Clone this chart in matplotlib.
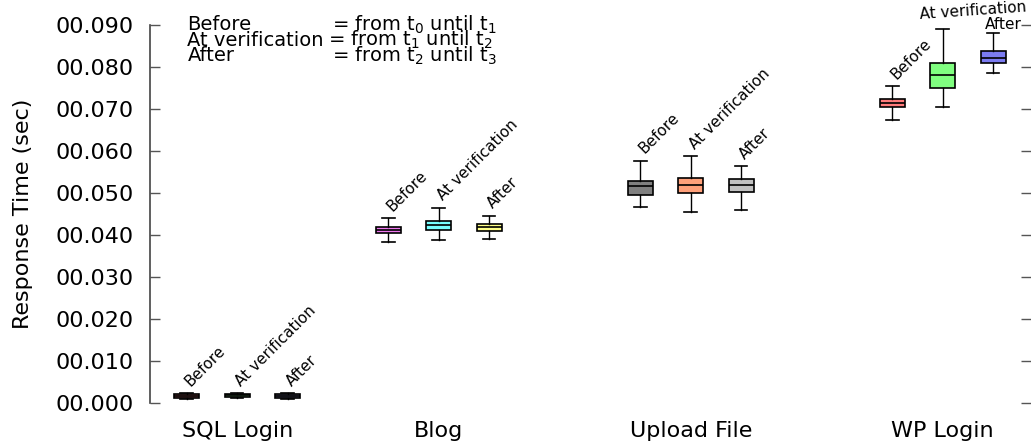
import matplotlib
matplotlib.use("Agg")
import matplotlib.pyplot as plt

# categories and box stats (whisker low, q1, median, q3, whisker high), in seconds
groups = ["SQL Login", "Blog", "Upload File", "WP Login"]
phases = ["Before", "At verification", "After"]

sql_stats = [
    [0.0010, 0.0013, 0.0017, 0.0021, 0.0024],
    [0.0011, 0.0014, 0.0018, 0.0021, 0.0024],
    [0.0010, 0.0013, 0.0017, 0.0021, 0.0024],
]
blog_stats = [
    [0.0383, 0.0404, 0.0412, 0.0418, 0.0440],
    [0.0387, 0.0413, 0.0423, 0.0434, 0.0465],
    [0.0390, 0.0409, 0.0418, 0.0426, 0.0446],
]
upload_stats = [
    [0.0467, 0.0496, 0.0517, 0.0529, 0.0577],
    [0.0455, 0.0499, 0.0520, 0.0536, 0.0588],
    [0.0459, 0.0502, 0.0519, 0.0534, 0.0564],
]
wp_stats = [
    [0.0675, 0.0705, 0.0715, 0.0724, 0.0755],
    [0.0705, 0.0751, 0.0782, 0.0809, 0.0891],
    [0.0786, 0.0809, 0.0821, 0.0839, 0.0882],
]

box_colors = [
    ["#b06464", "#5a965f", "#6c6c94"],
    ["#ee77ee", "#77ffff", "#ffff88"],
    ["#808080", "#ffa07a", "#c0c0c0"],
    ["#ff7b7b", "#80ff80", "#7b7bf0"],
]

positions = [[1, 2, 3], [5, 6, 7], [10, 11, 12], [15, 16, 17]]

plt.rcParams['font.family'] = 'DejaVu Sans'
fig = plt.figure(figsize=(10.31, 4.47), dpi=100)
ax = fig.add_axes([150 / 1031, 44 / 447, 881 / 1031, 378 / 447])

all_stats = [sql_stats, blog_stats, upload_stats, wp_stats]
for g, stats in enumerate(all_stats):
    bxp_stats = []
    for s in stats:
        bxp_stats.append({'whislo': s[0], 'q1': s[1], 'med': s[2], 'q3': s[3], 'whishi': s[4], 'fliers': []})
    bp = ax.bxp(bxp_stats, positions=positions[g], widths=0.5, patch_artist=True,
                showfliers=False, manage_ticks=False,
                boxprops=dict(edgecolor='black', linewidth=1.2),
                medianprops=dict(color='black', linewidth=1.2),
                whiskerprops=dict(color='black', linewidth=1.0),
                capprops=dict(color='black', linewidth=1.2))
    for patch, c in zip(bp['boxes'], box_colors[g]):
        patch.set_facecolor(c)

    # phase labels above each box
    for i, s in enumerate(stats):
        p = positions[g][i]
        if g == 3 and i == 1:
            ax.text(p - 0.44, s[4] + 0.0017, phases[i], rotation=4, fontsize=11,
                    ha='left', va='bottom', rotation_mode='anchor')
        elif g == 3 and i == 2:
            ax.text(p - 0.16, s[4] + 0.0002, phases[i], rotation=0, fontsize=11,
                    ha='left', va='bottom')
        else:
            ax.text(p + 0.12, s[4] + 0.0010, phases[i], rotation=45, fontsize=11,
                    ha='left', va='bottom', rotation_mode='anchor')

ax.set_xlim(0.27, 17.75)
ax.set_ylim(0.0, 0.09)
ax.set_yticks([i * 0.01 for i in range(10)])
ax.set_yticklabels(["00.%03d" % (i * 10) for i in range(10)], fontsize=16)
ax.set_xticks([2, 6, 11, 16])
ax.set_xticklabels(groups, fontsize=16)
ax.tick_params(axis='x', length=0, pad=13)
ax.tick_params(axis='y', direction='in', length=7.5, width=1.0, color='#555555',
               right=True, pad=12)
ax.set_ylabel("Response Time (sec)", fontsize=16, labelpad=16)

for side in ['top', 'right', 'bottom']:
    ax.spines[side].set_visible(False)
ax.spines['left'].set_color('#444444')
ax.spines['left'].set_linewidth(1.2)

# legend-like note in the upper left
ax.text(0.0425, 0.986, "Before", transform=ax.transAxes, fontsize=14, va='baseline')
ax.text(0.0425, 0.945, "At verification", transform=ax.transAxes, fontsize=14, va='baseline')
ax.text(0.0425, 0.904, "After", transform=ax.transAxes, fontsize=14, va='baseline')
ax.text(0.207, 0.986, r"= from t$_0$ until t$_1$", transform=ax.transAxes, fontsize=14, va='baseline')
ax.text(0.202, 0.945, r"= from t$_1$ until t$_2$", transform=ax.transAxes, fontsize=14, va='baseline')
ax.text(0.207, 0.904, r"= from t$_2$ until t$_3$", transform=ax.transAxes, fontsize=14, va='baseline')

fig.savefig("out.png", dpi=100)
